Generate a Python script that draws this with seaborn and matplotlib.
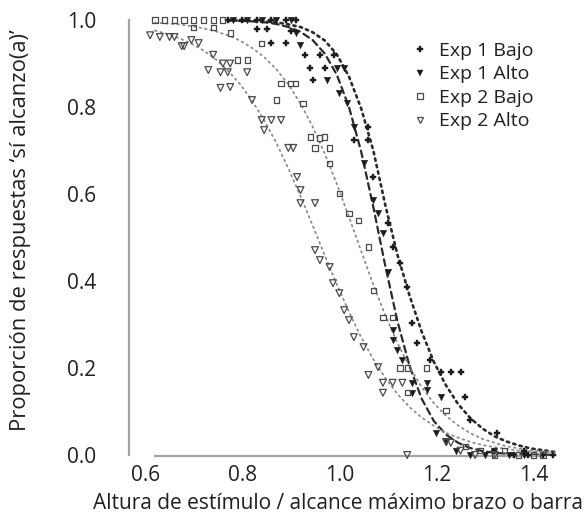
import matplotlib
matplotlib.use("Agg")
import matplotlib.pyplot as plt
import matplotlib.transforms as mtransforms
from matplotlib.lines import Line2D
import pandas as pd
import seaborn as sns

# ---------------- data ----------------
LABELS = ["Exp 1 Bajo", "Exp 1 Alto", "Exp 2 Bajo", "Exp 2 Alto"]

E1B_X = [0.75, 0.78, 0.81, 0.84, 0.87, 0.89, 0.81, 0.83, 0.88, 0.84, 0.87, 0.91, 0.94, 0.97,
         0.92, 0.95, 0.926, 1.04, 1.01, 1.04, 1.05, 1.08, 1.09, 1.105, 1.12, 1.13, 1.14, 1.167,
         1.19, 1.21, 1.23, 1.24, 1.25, 1.305, 1.30, 1.34, 1.36, 1.37, 1.40, 1.42]
E1B_Y = [1.0, 1.0, 1.0, 1.0, 1.0, 1.0, 0.98, 0.98, 0.975, 0.947, 0.947, 0.92, 0.92, 0.92,
         0.89, 0.89, 0.862, 0.754, 0.724, 0.724, 0.639, 0.533, 0.478, 0.441, 0.386, 0.303, 0.257, 0.218,
         0.191, 0.191, 0.191, 0.133, 0.08, 0.051, 0.01, 0.0, 0.01, 0.0, 0.0, 0.0]

E1A_X = [0.76, 0.79, 0.82, 0.85, 0.88, 0.89, 0.90, 0.975, 0.99, 0.955, 0.98, 0.996, 1.01, 1.03,
         1.05, 1.06, 1.07, 1.08, 1.09, 1.09, 1.10, 1.11, 1.13, 1.16, 1.13, 1.16, 1.19, 1.18, 1.20,
         1.22, 1.25, 1.28, 1.30, 1.33, 1.36]
E1A_Y = [1.0, 1.0, 1.0, 1.0, 1.0, 0.97, 0.943, 0.89, 0.89, 0.862, 0.832, 0.809, 0.754, 0.671,
         0.586, 0.556, 0.51, 0.42, 0.287, 0.264, 0.241, 0.218, 0.166, 0.166, 0.143, 0.149, 0.133, 0.05, 0.03,
         0.01, 0.0, 0.0, 0.01, 0.0, 0.0]

E2B_X = [0.60, 0.62, 0.64, 0.66, 0.68, 0.70, 0.72, 0.74, 0.68, 0.72, 0.755, 0.77, 0.79, 0.82,
         0.86, 0.88, 0.89, 0.85, 0.905, 0.92, 0.95, 0.94, 0.93, 0.96, 0.96, 0.98, 1.00, 1.02, 1.04,
         1.05, 1.07, 1.09, 1.105, 1.12, 1.16, 1.12, 1.20, 1.24, 1.27, 1.30, 1.32, 1.35, 1.38, 1.40]
E2B_Y = [1.0, 1.0, 1.0, 1.0, 1.0, 1.0, 1.0, 1.0, 0.982, 0.982, 0.97, 0.908, 0.908, 0.947,
         0.855, 0.855, 0.855, 0.816, 0.809, 0.731, 0.731, 0.729, 0.706, 0.706, 0.671, 0.602, 0.556, 0.54, 0.478,
         0.379, 0.317, 0.317, 0.2, 0.2, 0.2, 0.143, 0.103, 0.02, 0.01, 0.0, 0.01, 0.0, 0.0, 0.0]

E2A_X = [0.59, 0.61, 0.63, 0.64, 0.655, 0.66, 0.675, 0.69, 0.72, 0.74, 0.755, 0.71, 0.735, 0.75,
         0.79, 0.755, 0.735, 0.80, 0.82, 0.84, 0.86, 0.825, 0.875, 0.885, 0.893, 0.90, 0.90, 0.93,
         0.93, 0.94, 0.96, 0.967, 0.98, 0.99, 1.00, 1.01, 1.03, 1.06, 1.04, 1.07, 1.09, 1.11, 1.07,
         1.12, 1.20, 1.21, 1.23, 1.26, 1.30]
E2A_Y = [0.965, 0.961, 0.961, 0.961, 0.94, 0.94, 0.954, 0.947, 0.92, 0.90, 0.90, 0.885, 0.88, 0.88,
         0.88, 0.846, 0.844, 0.816, 0.77, 0.77, 0.77, 0.747, 0.706, 0.706, 0.639, 0.609, 0.579, 0.579,
         0.471, 0.448, 0.432, 0.395, 0.372, 0.333, 0.31, 0.271, 0.248, 0.202, 0.184, 0.166, 0.166, 0.166, 0.143,
         0.0, 0.03, 0.028, 0.01, 0.0, 0.0]

# fitted curves (stimulus values; each curve uses the last len(fit) of them)
CURVE_X = [0.600, 0.625, 0.650, 0.675, 0.700, 0.725, 0.750, 0.775, 0.800, 0.825,
           0.850, 0.875, 0.900, 0.925, 0.950, 0.975, 1.000, 1.025, 1.050, 1.075, 1.100, 1.125,
           1.150, 1.175, 1.200, 1.225, 1.250, 1.275, 1.300, 1.325, 1.350, 1.375, 1.400, 1.425]
FIT_E1B = [0.999, 0.999, 0.998, 0.997,
           0.995, 0.990, 0.984, 0.972, 0.953, 0.921, 0.870, 0.797, 0.701, 0.574, 0.460, 0.366,
           0.283, 0.214, 0.160, 0.117, 0.085, 0.061, 0.043, 0.031, 0.022, 0.015, 0.011, 0.007]
FIT_E1A = [0.999, 0.998, 0.997, 0.995,
           0.991, 0.984, 0.973, 0.954, 0.923, 0.874, 0.800, 0.698, 0.571, 0.434, 0.307, 0.204,
           0.129, 0.078, 0.047, 0.028, 0.016, 0.009, 0.005, 0.003, 0.002, 0.001, 0.001, 0.000]
FIT_E2B = [0.994, 0.992, 0.990, 0.986, 0.981, 0.974, 0.965, 0.953, 0.936, 0.915,
           0.887, 0.852, 0.808, 0.755, 0.693, 0.623, 0.547, 0.469, 0.392, 0.321, 0.257, 0.202,
           0.156, 0.119, 0.090, 0.068, 0.050, 0.037, 0.028, 0.020, 0.015, 0.011, 0.008, 0.006]
FIT_E2A = [0.976, 0.968, 0.958, 0.946, 0.930, 0.910, 0.884, 0.853, 0.815, 0.770,
           0.718, 0.659, 0.595, 0.528, 0.459, 0.392, 0.329, 0.271, 0.220, 0.177, 0.140, 0.110,
           0.086, 0.067, 0.051, 0.040, 0.030, 0.023, 0.018, 0.014, 0.010, 0.008, 0.006, 0.005]

X_TICKS = [0.6, 0.8, 1.0, 1.2, 1.4]
Y_TICKS = [0.0, 0.2, 0.4, 0.6, 0.8, 1.0]
X_LABEL = "Altura de estímulo / alcance máximo brazo o barra"
Y_LABEL = "Proporción de respuestas \u2018sí alcanzo(a)\u2019"

# ---------------- style ----------------
sns.set_theme(style="white")
plt.rcParams['font.family'] = ['Open Sans', 'DejaVu Sans']
INK = "#231f20"
SPINE = "#a3a3a3"
DARK = "#1c1c1c"
OPEN = "#4a4a4a"

point_sets = [(E1B_X, E1B_Y), (E1A_X, E1A_Y), (E2B_X, E2B_Y), (E2A_X, E2A_Y)]
fit_sets = [FIT_E1B, FIT_E1A, FIT_E2B, FIT_E2A]

points = pd.concat([pd.DataFrame({"x": px, "y": py, "serie": lab})
                    for lab, (px, py) in zip(LABELS, point_sets)], ignore_index=True)
curves = pd.concat([pd.DataFrame({"x": CURVE_X[len(CURVE_X) - len(fy):], "y": fy, "serie": lab})
                    for lab, fy in zip(LABELS, fit_sets)], ignore_index=True)

fig = plt.figure(figsize=(5.87, 5.25), dpi=100)
ax = fig.add_axes([129 / 587, 69 / 525, 438 / 587, 449 / 525])

line_styles = {
    LABELS[0]: dict(color="#2a2a2a", lw=1.9, dashes=[0.9, 1.6]),
    LABELS[1]: dict(color="#2a2a2a", lw=1.6, dashes=[3.0, 2.0]),
    LABELS[2]: dict(color="#8c8c8c", lw=1.3, dashes=[0.9, 2.2]),
    LABELS[3]: dict(color="#8c8c8c", lw=1.3, dashes=[0.9, 2.2]),
}
for lab in LABELS:
    st = line_styles[lab]
    sub = curves[curves["serie"] == lab]
    n_before = len(ax.lines)
    sns.lineplot(data=sub, x="x", y="y", ax=ax, color=st["color"], lw=st["lw"],
                 estimator=None, sort=False, legend=False, zorder=2)
    for ln in ax.lines[n_before:]:
        ln.set_dashes(st["dashes"])
        ln.set_dash_capstyle("round")

marker_styles = {
    LABELS[0]: dict(marker="P", s=22, face=DARK, edge=DARK, lw=0.3),
    LABELS[1]: dict(marker="v", s=22, face=DARK, edge=DARK, lw=0.3),
    LABELS[2]: dict(marker="s", s=14, face="none", edge=OPEN, lw=0.9),
    LABELS[3]: dict(marker="v", s=24, face="none", edge=OPEN, lw=0.9),
}
for lab in LABELS:
    st = marker_styles[lab]
    sub = points[points["serie"] == lab]
    n_before = len(ax.collections)
    sns.scatterplot(data=sub, x="x", y="y", ax=ax, marker=st["marker"], s=st["s"],
                    color=st["edge"], legend=False, zorder=3)
    for coll in ax.collections[n_before:]:
        coll.set_facecolor(st["face"])
        coll.set_edgecolor(st["edge"])
        coll.set_linewidth(st["lw"])
        coll.set_clip_on(False)

ax.set_xlim(0.5464, 1.4495)
ax.set_ylim(-0.0023, 1.03)
ax.set_xticks(X_TICKS)
ax.set_yticks(Y_TICKS)
ax.set_xticklabels([f"{v:.1f}" for v in X_TICKS])
ax.set_yticklabels([f"{v:.1f}" for v in Y_TICKS])

for side in ["top", "right"]:
    ax.spines[side].set_visible(False)
for side in ["left", "bottom"]:
    ax.spines[side].set_color(SPINE)
    ax.spines[side].set_linewidth(1.6)
ax.spines["left"].set_bounds(0.0, 1.0)
ax.spines["bottom"].set_bounds(0.6, 1.4)

ax.tick_params(axis="both", which="major", direction="out", length=4.5, width=1.3,
               color=SPINE, labelcolor=INK, labelsize=15)
ax.tick_params(axis="y", pad=19)
ax.tick_params(axis="x", pad=2)
offset = mtransforms.ScaledTranslation(-9 / 100, 0, fig.dpi_scale_trans)
for lbl in ax.get_xticklabels():
    lbl.set_transform(lbl.get_transform() + offset)

ax.set_xlabel(X_LABEL, fontsize=15, color=INK)
ax.set_ylabel(Y_LABEL, fontsize=15.8, color=INK)
ax.xaxis.set_label_coords(0.477, -0.082)
ax.yaxis.set_label_coords(-0.224, 0.503)

handles = []
for lab in LABELS:
    st = marker_styles[lab]
    handles.append(Line2D([], [], linestyle="none", marker=st["marker"],
                          markersize=5.0 if st["marker"] != "s" else 4.0,
                          markerfacecolor=st["face"], markeredgecolor=st["edge"],
                          markeredgewidth=st["lw"]))
leg = ax.legend(handles, LABELS, loc="upper left", bbox_to_anchor=(410 / 587, 1 - 42 / 525),
                bbox_transform=fig.transFigure, frameon=False, borderaxespad=0, borderpad=0,
                handlelength=1.0, handletextpad=0.5, labelspacing=0.28, fontsize=14)
for t in leg.get_texts():
    t.set_color(INK)

fig.savefig("out.png", dpi=100)
